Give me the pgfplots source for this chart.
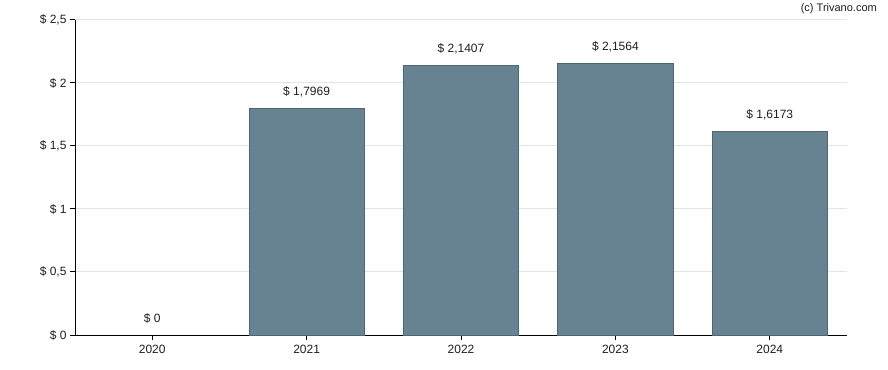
\documentclass[border=0pt]{standalone}
\usepackage{fontspec}
\setmainfont{Liberation Sans}
\usepackage{pgfplots}
\usepackage{pgfplotstable}
\pgfplotsset{compat=1.18}
\definecolor{barfill}{RGB}{103,131,146}
\definecolor{barline}{RGB}{76,102,120}
\definecolor{gridc}{RGB}{228,228,228}
\definecolor{txt}{RGB}{30,30,30}
\pgfplotstableread{
x y lab
1 1.7969 {\$ 1,7969}
2 2.1407 {\$ 2,1407}
3 2.1564 {\$ 2,1564}
4 1.6173 {\$ 1,6173}
}\bars
\pgfplotstableread{
x y lab
0 0 {\$ 0}
}\zero
\begin{document}
\begin{tikzpicture}
\begin{axis}[
  scale only axis, width=772bp, height=315bp,
  xmin=-0.5, xmax=4.5, ymin=0, ymax=2.5,
  xtick={0,1,2,3,4}, xticklabels={2020,2021,2022,2023,2024},
  ytick={0,0.5,1,1.5,2,2.5},
  yticklabels={{\$ 0},{\$ 0,5},{\$ 1},{\$ 1,5},{\$ 2},{\$ 2,5}},
  axis x line*=bottom, axis y line*=left,
  axis line style={black, line width=1bp},
  ymajorgrids, grid style={gridc, line width=1bp},
  tick align=outside, major tick length=5bp,
  tick style={black, line width=1bp},
  ticklabel style={font=\fontsize{12bp}{14bp}\selectfont, text=txt},
  xticklabel style={yshift=-2bp},
  clip=false,
]
\addplot[ybar, bar width=0.745, fill=barfill, draw=barline, line width=0.8bp,
  point meta=explicit symbolic,
  nodes near coords,
  every node near coord/.style={anchor=base, inner sep=0pt, yshift=13bp,
     font=\fontsize{12bp}{14bp}\selectfont, text=txt}]
  table[x=x, y=y, meta=lab] {\bars};
\addplot[only marks, mark=none, draw=none,
  point meta=explicit symbolic,
  nodes near coords,
  every node near coord/.style={anchor=base, inner sep=0pt, yshift=13bp,
     font=\fontsize{12bp}{14bp}\selectfont, text=txt}]
  table[x=x, y=y, meta=lab] {\zero};
\end{axis}
\node[anchor=base east, inner sep=0pt, font=\fontsize{11bp}{13bp}\selectfont, text=txt]
  at ([shift={(30bp,8bp)}]current axis.north east) {(c) Trivano.com};
\pgfresetboundingbox
\path[use as bounding box] ([shift={(-75bp,-35bp)}]current axis.south west) rectangle ++(888bp,370bp);
\end{tikzpicture}
\end{document}
